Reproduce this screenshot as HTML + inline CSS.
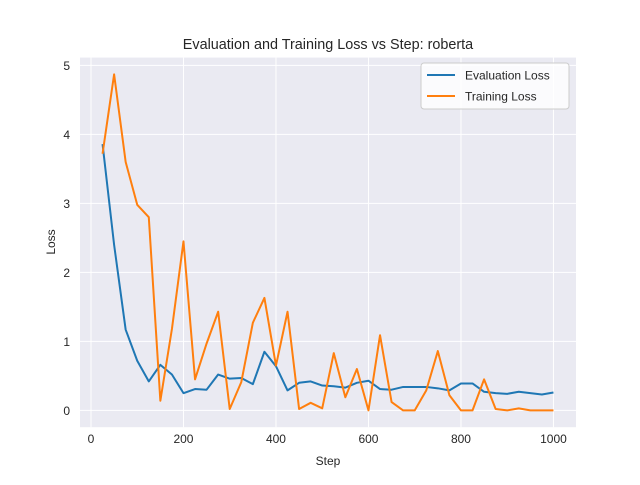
<!DOCTYPE html>
<html><head><meta charset="utf-8"><style>
body{margin:0;background:#fff;}
svg text{font-family:"Liberation Sans","DejaVu Sans",sans-serif;fill:#262626;}
</style></head><body>
<svg id="chart" width="640" height="480">
<rect x="0" y="0" width="640" height="480" fill="#fff"/>
<rect x="80" y="57.6" width="496" height="369.6" fill="#eaeaf2"/>
<g id="grid"></g><g id="ticks"></g><g id="lines"></g>
<text x="328" y="49" text-anchor="middle" font-size="14.4">Evaluation and Training Loss vs Step: roberta</text>
<text x="328" y="465" text-anchor="middle" font-size="12">Step</text>
<text x="0" y="0" transform="translate(55,242) rotate(-90)" text-anchor="middle" font-size="12">Loss</text>
<g>
<rect x="421" y="63" width="148" height="46" rx="3" fill="#ffffff" fill-opacity="0.8" stroke="#ccc"/>
<line x1="427" y1="75" x2="455" y2="75" stroke="#1f77b4" stroke-width="2"/>
<text x="465" y="79.5" font-size="12">Evaluation Loss</text>
<line x1="427" y1="96" x2="455" y2="96" stroke="#ff7f0e" stroke-width="2"/>
<text x="465" y="100.5" font-size="12">Training Loss</text>
</g>
</svg>
<script>
const steps=[25,50,75,100,125,150,175,200,225,250,275,300,325,350,375,400,425,450,475,500,525,550,575,600,625,650,675,700,725,750,775,800,825,850,875,900,925,950,975,1000];
const evalLoss=[3.86,2.4,1.17,0.72,0.42,0.66,0.52,0.25,0.31,0.30,0.52,0.46,0.47,0.38,0.85,0.64,0.29,0.40,0.42,0.36,0.35,0.33,0.40,0.43,0.31,0.30,0.34,0.34,0.34,0.32,0.29,0.39,0.39,0.27,0.25,0.24,0.27,0.25,0.23,0.26];
const trainLoss=[3.72,4.87,3.6,2.98,2.80,0.14,1.18,2.45,0.45,0.97,1.43,0.02,0.41,1.27,1.63,0.65,1.43,0.02,0.11,0.03,0.83,0.19,0.6,0.0,1.09,0.12,0.0,0.0,0.29,0.86,0.22,0.0,0.0,0.45,0.02,0.0,0.03,0.0,0.0,0.0];
const xTicks=[0,200,400,600,800,1000];
const yTicks=[0,1,2,3,4,5];
const NS="http://www.w3.org/2000/svg";
const L=80,R=576,T=57.6,B=427.2;
const all=evalLoss.concat(trainLoss);
const xmin=Math.min(...steps),xmax=Math.max(...steps),xm=(xmax-xmin)*0.05;
const ymin=Math.min(...all),ymax=Math.max(...all),ym=(ymax-ymin)*0.05;
const sx=v=>L+(v-(xmin-xm))/((xmax+xm)-(xmin-xm))*(R-L);
const sy=v=>B-(v-(ymin-ym))/((ymax+ym)-(ymin-ym))*(B-T);
function mk(tag,attrs,parent){const e=document.createElementNS(NS,tag);for(const k in attrs)e.setAttribute(k,attrs[k]);document.getElementById(parent).appendChild(e);return e;}
xTicks.forEach(t=>{
  const g=mk('line',{x1:sx(t),x2:sx(t),y1:T,y2:B,stroke:'#fff','stroke-width':1},'grid');
  
  
  const tx=mk('text',{x:sx(t),y:B+16,'text-anchor':'middle','font-size':'12'},'ticks');
  tx.textContent=t;
  
  
});
yTicks.forEach(t=>{
  const g=mk('line',{x1:L,x2:R,y1:sy(t),y2:sy(t),stroke:'#fff','stroke-width':1},'grid');
  
  
  const tx=mk('text',{x:L-10,y:sy(t)+4.5,'text-anchor':'end','font-size':'12'},'ticks');
  tx.textContent=t;
  
  
});
function series(vals,color,name){
  const d=vals.map((v,i)=>(i?'L':'M')+sx(steps[i]).toFixed(2)+','+sy(v).toFixed(2)).join('');
  const p=mk('path',{d:d,fill:'none',stroke:color,'stroke-width':2,'stroke-linejoin':'round'},'lines');
  
  
}
series(evalLoss,'#1f77b4','evaluation-loss-line');
series(trainLoss,'#ff7f0e','training-loss-line');
</script>
</body></html>
